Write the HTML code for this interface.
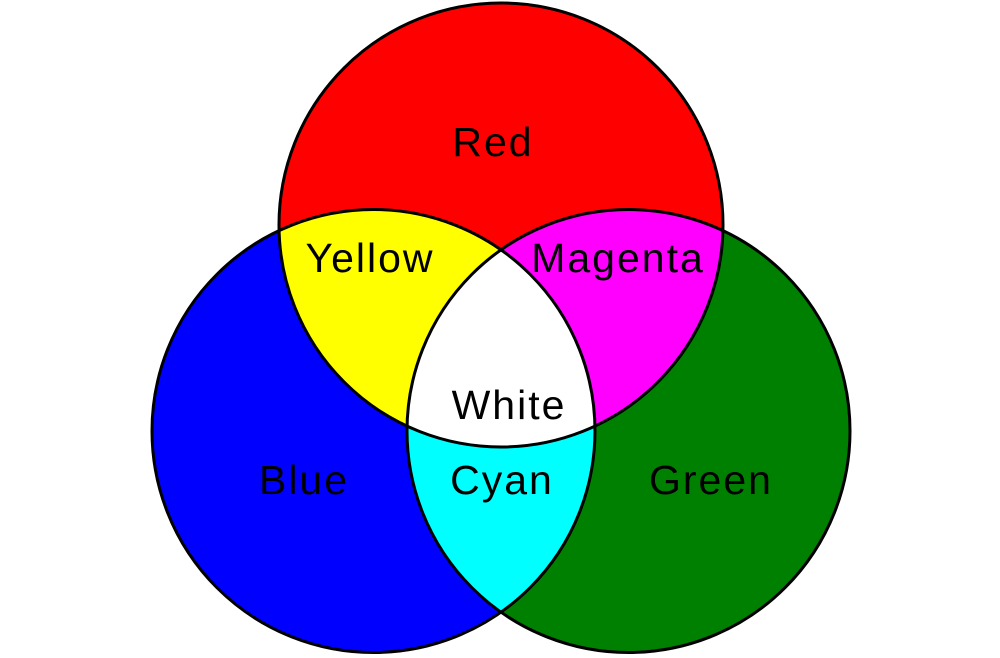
<!DOCTYPE html>
<html><head><style>html,body{margin:0;padding:0;background:#fff}svg{display:block}</style></head>
<body>
<svg width="1000" height="658" viewBox="0 0 1000 658" xmlns="http://www.w3.org/2000/svg">
<defs>
<clipPath id="cr"><circle cx="501" cy="225" r="222"/></clipPath>
<clipPath id="cb"><circle cx="373.5" cy="431" r="221.5"/></clipPath>
<clipPath id="cg"><circle cx="628.5" cy="431" r="221.5"/></clipPath>
</defs>
<circle cx="373.5" cy="431" r="221.5" fill="#0000ff"/>
<circle cx="628.5" cy="431" r="221.5" fill="#008000"/>
<circle cx="501" cy="225" r="222" fill="#ff0000"/>
<g clip-path="url(#cr)"><circle cx="373.5" cy="431" r="221.5" fill="#ffff00"/><circle cx="628.5" cy="431" r="221.5" fill="#ff00ff"/></g>
<g clip-path="url(#cb)"><circle cx="628.5" cy="431" r="221.5" fill="#00ffff"/></g>
<g clip-path="url(#cb)"><g clip-path="url(#cg)"><circle cx="501" cy="225" r="222" fill="#ffffff"/></g></g>
<g fill="none" stroke="#000" stroke-width="3">
<circle cx="373.5" cy="431" r="221.5"/><circle cx="628.5" cy="431" r="221.5"/><circle cx="501" cy="225" r="222"/>
</g>
<g font-family="Liberation Sans, sans-serif" font-size="41" fill="#000" text-anchor="middle" letter-spacing="2">
<text x="493" y="156">Red</text>
<text x="370" y="272">Yellow</text>
<text x="618" y="272">Magenta</text>
<text x="509" y="419">White</text>
<text x="304" y="494">Blue</text>
<text x="502" y="494">Cyan</text>
<text x="711" y="494">Green</text>
</g>
</svg>
</body></html>
